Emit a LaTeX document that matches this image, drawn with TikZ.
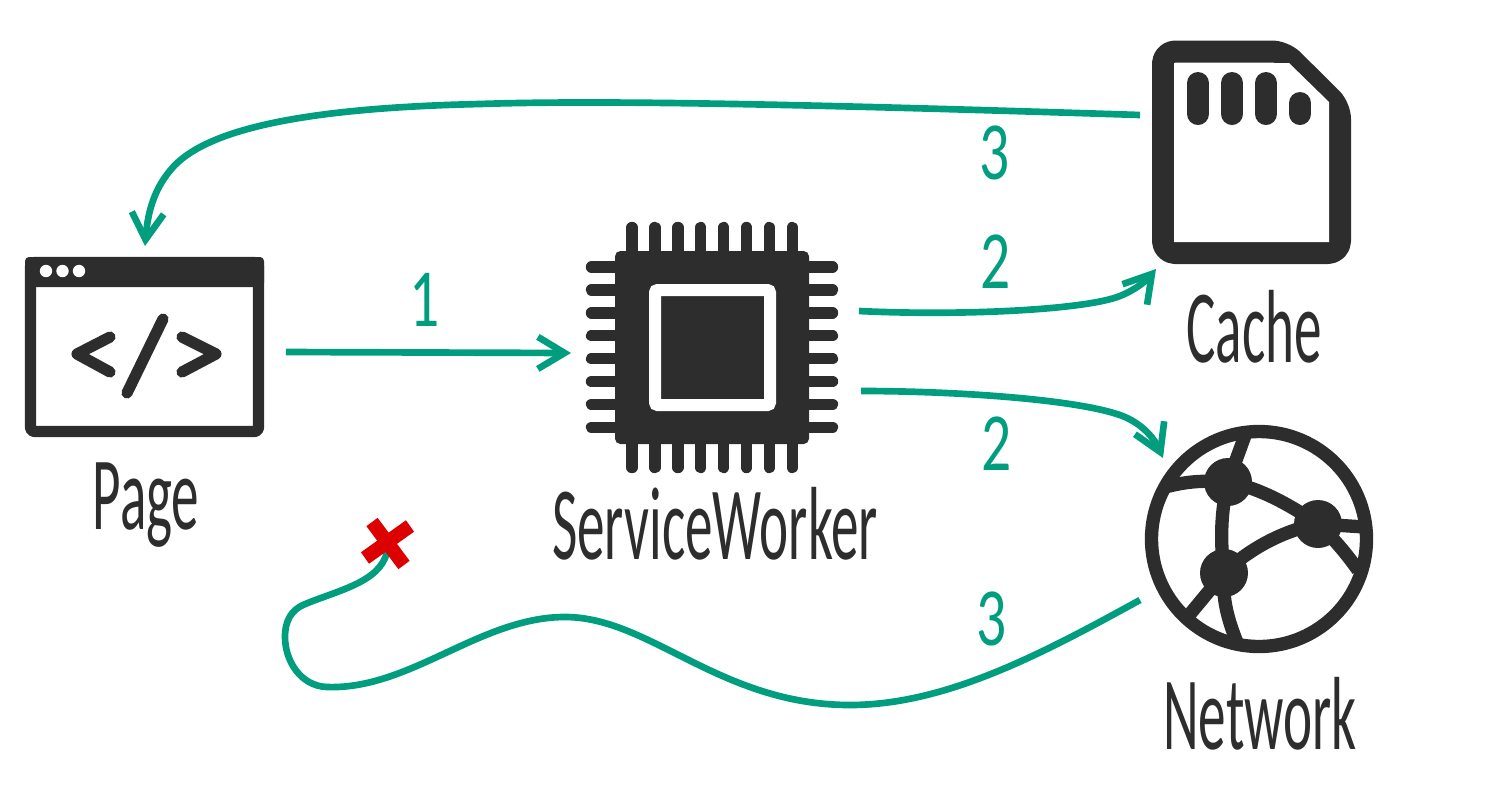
\documentclass[tikz,border=0pt]{standalone}
\usepackage{fontspec}
\setmainfont{Carlito}
\usetikzlibrary{arrows.meta}
\definecolor{ink}{HTML}{2D2D2D}
\definecolor{teal}{HTML}{009E7F}
\definecolor{xred}{HTML}{DD0000}
\tikzset{
  icon/.style={draw=ink,line join=round},
  pin/.style={draw=ink,line width=8.6pt,line cap=round},
  link/.style={draw=teal,line width=5pt,line join=miter},
  flow/.style={link,-{Straight Barb[length=20pt,width=24pt,line width=5pt]}},
  plainflow/.style={link},
  spot/.style={inner sep=0pt,minimum size=0pt},
  title/.style={text=ink,font=\fontsize{78}{78}\selectfont,inner sep=0pt,xscale=.53},
  num/.style={text=teal,font=\fontsize{62}{62}\selectfont,inner sep=0pt,xscale=.72},
  crossarm/.style={draw=xred,line width=10.5pt},
}
\begin{document}
\begin{tikzpicture}[x=0.75pt,y=-0.75pt]
\useasboundingbox (0,0) rectangle (1510,794);
% named anchors for connector ends
\coordinate (cacheOut) at (1140,115);
\coordinate (pageIn) at (145,246);
\coordinate (pageOut) at (286,352);
\coordinate (swIn) at (571,353);
\coordinate (swOutA) at (859,311);
\coordinate (cacheIn) at (1156,269);
\coordinate (swOutB) at (861,391);
\coordinate (netIn) at (1163,458);
\coordinate (netOut) at (1140,600);
\coordinate (fail) at (387,552);
% Page icon
\node[spot] (page) at (144.5,347) {};
\draw[icon,line width=8.5pt,rounded corners=3pt] (30.5,262.5) rectangle (258.5,431.5);
\fill[ink,rounded corners=3pt] (25,257) rectangle (264,287);
\fill[white] (46,271) circle (6.2) (62.5,271) circle (6.2) (79,271) circle (6.2);
\draw[ink,line width=8.4pt,line cap=round,line join=round] (110,337) -- (77,354) -- (110,372);
\draw[ink,line width=8.4pt,line cap=round] (163,319) -- (127,393);
\draw[ink,line width=8.4pt,line cap=round,line join=round] (182,337) -- (216,354) -- (182,372);
% ServiceWorker icon
\node[spot] (sw) at (712,347.5) {};
\foreach \k in {0,...,7}{
  \draw[pin] ({632+22.9*\k},227.5) -- ({632+22.9*\k},260);
  \draw[pin] ({632+22.9*\k},467.5) -- ({632+22.9*\k},435);
  \draw[pin] (591.5,{267+22.9*\k}) -- (625,{267+22.9*\k});
  \draw[pin] (832.5,{267+22.9*\k}) -- (800,{267+22.9*\k});
}
\fill[ink,rounded corners=4pt] (615,251) rectangle (809,444);
\draw[white,line width=9pt,rounded corners=2pt] (655,290) rectangle (770,405);
% Cache icon
\node[spot] (cache) at (1251,152) {};
\draw[icon,line width=16.5pt,rounded corners=9pt] (1163,51.5) -- (1284,51.5) -- (1340,107) -- (1340,253) -- (1163,253) -- cycle;
\fill[white] (1174,63) -- (1289,63) -- (1329,102) -- (1329,242) -- (1174,242) -- cycle;
\foreach \cx/\top in {1198/83,1232/83,1266/83,1300/103}{
  \draw[ink,line width=16.5pt,line cap=round] (\cx,\top) -- (\cx,114);
}
% Network icon
\node[spot] (net) at (1259,539) {};
\draw[ink,line width=10pt] (net) circle (107.5);
\draw[ink,line width=10pt]
  (1228,482) -- (1247,430)
  (1228,482) .. controls (1200,480) and (1185,482) .. (1165,487)
  (1228,482) .. controls (1260,488) and (1290,505) .. (1318,524)
  (1318,524) -- (1365,527)
  (1318,524) .. controls (1335,540) and (1345,552) .. (1358,570)
  (1318,524) .. controls (1285,530) and (1250,548) .. (1224,573)
  (1228,482) .. controls (1221,510) and (1220,540) .. (1224,573)
  (1224,573) -- (1185,620)
  (1224,573) .. controls (1222,600) and (1228,620) .. (1238,645);
\fill[ink] (1228,482) circle (24) (1318,524) circle (24) (1224,573) circle (24);
% Failure cross
\node[spot] (cross) at (388,543) {};
% Connectors
\draw[flow] (cacheOut) .. controls (800,104) and (600,100) .. (480,104) .. controls (300,108) and (210,130) .. (175,165) .. controls (155,186) and (148,210) .. (pageIn);
\draw[flow] (pageOut) -- (swIn);
\draw[flow] (swOutA) .. controls (960,316) and (1085,310) .. (1120,296) .. controls (1135,290) and (1146,281) .. (cacheIn);
\draw[flow] (swOutB) .. controls (960,391) and (1085,400) .. (1125,417) .. controls (1145,426) and (1155,440) .. (netIn);
\draw[plainflow] (netOut) .. controls (1040,655) and (945,705) .. (850,705) .. controls (720,705) and (650,617) .. (565,617) .. controls (480,617) and (410,690) .. (327,687) .. controls (300,686) and (285,660) .. (285,637) .. controls (285,620) and (292,610) .. (303,605) .. controls (335,591) and (380,583) .. (fail);
\draw[crossarm] (372,522) -- (404,565);
\draw[crossarm] (365,558) -- (410,526);
% Labels
\node[title] (pagelabel) at (146,505) {Page};
\node[title] (swlabel) at (715,524) {ServiceWorker};
\node[title] (cachelabel) at (1254,327) {Cache};
\node[title] (netlabel) at (1260,714) {Network};
\node[num] (n1) at (425,300) {1};
\node[num] (n2a) at (996,262) {2};
\node[num] (n3a) at (995,153) {3};
\node[num] (n2b) at (997,444) {2};
\node[num] (n3b) at (992,619) {3};
\end{tikzpicture}
\end{document}
